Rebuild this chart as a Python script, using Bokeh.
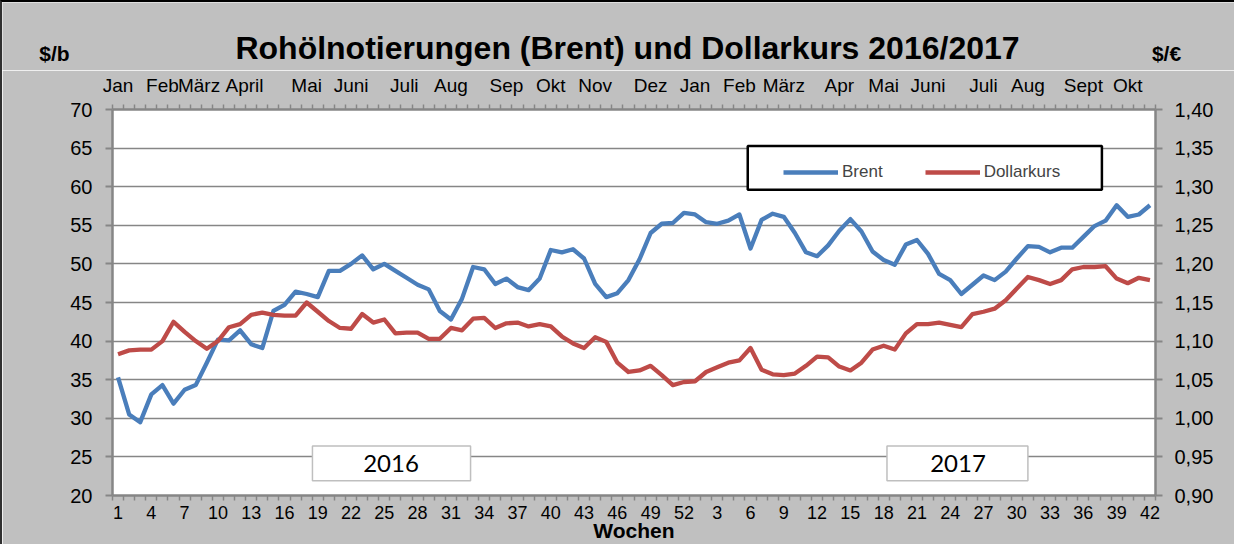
from bokeh.plotting import figure
from bokeh.layouts import column
from bokeh.models import (Range1d, LinearAxis, FixedTicker, CustomJSTickFormatter,
                          BoxAnnotation, Label, Legend, LegendItem, ColumnDataSource)
from bokeh.embed import file_html
from bokeh.resources import INLINE

# ---------------- data ----------------
week_no = list(range(1, 53)) + list(range(1, 43))          # KW 2016 (1-52) + KW 2017 (1-42)
week_idx = list(range(1, len(week_no) + 1))

brent = [35.3, 30.5, 29.5, 33.1, 34.3, 31.9, 33.7, 34.3, 37.2, 40.2, 40.1, 41.4, 39.6,
         39.1, 43.9, 44.7, 46.4, 46.1, 45.7, 49.1, 49.1, 50.0, 51.1, 49.3, 50.0,
         49.1, 48.2, 47.3, 46.7, 43.9, 42.8, 45.5, 49.6, 49.3, 47.4, 48.1, 47.0, 46.6,
         48.1, 51.8, 51.5, 51.9, 50.7, 47.4, 45.7, 46.2, 47.9, 50.6, 54.0,
         55.2, 55.3, 56.6, 56.4, 55.4, 55.2, 55.6, 56.4, 52.0, 55.7, 56.5, 56.1, 54.0,
         51.5, 51.0, 52.4, 54.3, 55.8, 54.2, 51.6, 50.5, 49.9, 52.5, 53.1,
         51.3, 48.7, 47.9, 46.1, 47.3, 48.5, 47.9, 49.0, 50.7, 52.3, 52.2, 51.5, 52.1,
         52.1, 53.5, 54.9, 55.6, 57.6, 56.1, 56.4, 57.6]

dollar = [1.083, 1.088, 1.089, 1.089, 1.100, 1.125, 1.112, 1.100, 1.090, 1.100, 1.118,
          1.122, 1.134, 1.137, 1.134, 1.133, 1.133, 1.150, 1.138, 1.126, 1.117, 1.116,
          1.135, 1.124, 1.128,
          1.110, 1.111, 1.111, 1.103, 1.103, 1.117, 1.114, 1.129, 1.130, 1.117, 1.123,
          1.124, 1.119, 1.122, 1.119, 1.106, 1.097, 1.091, 1.105, 1.099, 1.072, 1.060,
          1.062, 1.068,
          1.056, 1.043, 1.047, 1.048, 1.060, 1.066, 1.072, 1.075, 1.091, 1.063, 1.057,
          1.056, 1.058, 1.068, 1.080, 1.079, 1.067, 1.062, 1.072, 1.089, 1.094, 1.089,
          1.110, 1.122,
          1.122, 1.124, 1.121, 1.118, 1.135, 1.138, 1.142, 1.153, 1.168, 1.183, 1.179,
          1.174, 1.179, 1.193, 1.196, 1.196, 1.197, 1.181, 1.175, 1.182, 1.179]

month_names = ["Jan", "Feb", "März", "April", "Mai", "Juni", "Juli", "Aug", "Sep", "Okt",
               "Nov", "Dez", "Jan", "Feb", "März", "Apr", "Mai", "Juni", "Juli", "Aug",
               "Sept", "Okt"]
month_week = [1, 5, 8.3, 12.4, 18, 22, 26.8, 31, 36, 40, 44, 49, 53, 57, 61, 66, 70, 74,
              79, 83, 88, 92]

y_left_ticks = [20, 25, 30, 35, 40, 45, 50, 55, 60, 65, 70]
y_right_ticks = [0.90, 0.95, 1.00, 1.05, 1.10, 1.15, 1.20, 1.25, 1.30, 1.35, 1.40]
x_tick_idx = week_idx[::3]
x_tick_lbl = [str(week_no[i - 1]) for i in x_tick_idx]

series_names = ["Brent", "Dollarkurs"]
year_labels = ["2016", "2017"]
title_text = "Rohölnotierungen (Brent) und Dollarkurs 2016/2017"
x_title = "Wochen"
unit_left = "$/b"
unit_right = "$/€"

# ---------------- styling ----------------
FONT = "Liberation Sans"
AX = "#868686"
BLUE = "#4A7EBB"
RED = "#BE4B48"
BG = "#C0C0C0"

W = 1232
H_HEAD = 68
H_MAIN = 542 - H_HEAD

# ---- header strip (title and unit labels) ----
head = figure(width=W, height=H_HEAD, output_backend="svg", toolbar_location=None,
              x_range=Range1d(0, W), y_range=Range1d(H_HEAD, 0),
              x_axis_location=None, y_axis_location=None, title_location=None,
              min_border=0, min_border_left=0, min_border_right=0,
              min_border_top=0, min_border_bottom=0)
head.grid.visible = False
head.background_fill_color = BG
head.border_fill_color = BG
head.outline_line_color = None
head.add_layout(Label(x=625, y=45.5, text=title_text, text_align="center",
                      text_baseline="middle", text_font=FONT, text_font_style="bold",
                      text_font_size="32px", text_color="black"))
for txt, cx in [(unit_left, 52), (unit_right, 1164)]:
    head.add_layout(Label(x=cx, y=50.5, text=txt, text_align="center",
                          text_baseline="middle", text_font=FONT,
                          text_font_style="bold", text_font_size="21px", text_color="black"))

# ---- main chart ----
p = figure(width=W, height=H_MAIN, output_backend="svg", toolbar_location=None,
           x_range=Range1d(0.5, 94.5), y_range=Range1d(20, 70), title_location=None,
           min_border_left=110, min_border_right=79, min_border_top=39,
           min_border_bottom=30)
p.background_fill_color = "white"
p.border_fill_color = BG
p.outline_line_color = None
p.extra_y_ranges = {"dollar": Range1d(0.90, 1.40)}

for fig in (head, p):
    if "frame_align" in fig.properties():
        fig.frame_align = False

p.xgrid.visible = False
p.ygrid.ticker = FixedTicker(ticks=y_left_ticks)
p.ygrid.grid_line_color = AX
p.ygrid.grid_line_width = 1.6

minor_bounds = [k + 0.5 for k in range(0, len(week_idx) + 1)]

# left axis
yl = p.yaxis[0]
yl.ticker = FixedTicker(ticks=y_left_ticks)
yl.axis_line_color = AX
yl.axis_line_width = 2.5
yl.major_tick_line_color = AX
yl.major_tick_line_width = 2
yl.major_tick_in = 0
yl.major_tick_out = 7
yl.minor_tick_line_color = None
yl.major_label_text_font = FONT
yl.major_label_text_font_size = "20px"
yl.major_label_text_color = "black"
yl.major_label_standoff = 13

# bottom axis
xb = p.xaxis[0]
xb.ticker = FixedTicker(ticks=x_tick_idx, minor_ticks=minor_bounds)
xb.formatter = CustomJSTickFormatter(args=dict(pos=x_tick_idx, lbl=x_tick_lbl), code="""
    const i = pos.indexOf(tick); return i >= 0 ? lbl[i] : "";""")
xb.axis_line_color = AX
xb.axis_line_width = 2.5
xb.major_tick_line_color = None
xb.major_tick_in = 0
xb.major_tick_out = 0
xb.minor_tick_line_color = AX
xb.minor_tick_line_width = 1.5
xb.minor_tick_in = 0
xb.minor_tick_out = 5
xb.major_label_text_font = FONT
xb.major_label_text_font_size = "18px"
xb.major_label_text_color = "black"
xb.major_label_standoff = 5
xb.axis_label = x_title
xb.axis_label_standoff = -3
xb.axis_label_text_font = FONT
xb.axis_label_text_font_style = "bold"
xb.axis_label_text_font_size = "21px"
xb.axis_label_text_color = "black"

# top axis with month names
xt = LinearAxis(ticker=FixedTicker(ticks=month_week, minor_ticks=minor_bounds),
                formatter=CustomJSTickFormatter(args=dict(pos=month_week, lbl=month_names), code="""
    let best = 0, d = 1e9;
    for (let k = 0; k < pos.length; k++) { const e = Math.abs(pos[k] - tick); if (e < d) { d = e; best = k; } }
    return lbl[best];"""))
xt.axis_line_color = AX
xt.axis_line_width = 2.5
xt.major_tick_line_color = None
xt.major_tick_in = 0
xt.major_tick_out = 0
xt.minor_tick_line_color = AX
xt.minor_tick_line_width = 1.5
xt.minor_tick_in = 0
xt.minor_tick_out = 5
xt.major_label_text_font = FONT
xt.major_label_text_font_size = "19px"
xt.major_label_text_color = "black"
xt.major_label_standoff = 9
p.add_layout(xt, "above")

# right axis
yr = LinearAxis(y_range_name="dollar", ticker=FixedTicker(ticks=y_right_ticks),
                formatter=CustomJSTickFormatter(code="return tick.toFixed(2).replace('.', ',');"))
yr.axis_line_color = AX
yr.axis_line_width = 2.5
yr.major_tick_line_color = AX
yr.major_tick_line_width = 2
yr.major_tick_in = 0
yr.major_tick_out = 7
yr.minor_tick_line_color = None
yr.major_label_text_font = FONT
yr.major_label_text_font_size = "20px"
yr.major_label_text_color = "black"
yr.major_label_standoff = 12
p.add_layout(yr, "right")

# ---------------- series ----------------
src = ColumnDataSource(dict(x=week_idx, brent=brent, dollar=dollar))
rb = p.line("x", "brent", source=src, line_color=BLUE, line_width=4.3, line_join="round")
rd = p.line("x", "dollar", source=src, y_range_name="dollar", line_color=RED,
            line_width=4.3, line_join="round")

# legend box + legend
p.add_layout(BoxAnnotation(left=57.75, right=89.67, bottom=59.62, top=65.26,
                           fill_color="white", fill_alpha=1.0,
                           line_color="black", line_alpha=1.0, line_width=2.5))
leg = Legend(items=[LegendItem(label=series_names[0], renderers=[rb]),
                    LegendItem(label=series_names[1], renderers=[rd])],
             orientation="horizontal", location=(671, 313),
             glyph_width=55, glyph_height=20, label_standoff=4, spacing=42,
             padding=6, margin=0, background_fill_alpha=0, border_line_color=None,
             label_text_font=FONT, label_text_font_size="17px", label_height=20)
p.add_layout(leg)

# year boxes
for (l, r, cx), txt in zip([(18.52, 32.77, 25.6), (70.3, 83.0, 76.7)], year_labels):
    p.add_layout(BoxAnnotation(left=l, right=r, bottom=21.92, top=26.41,
                               fill_color="white", fill_alpha=1.0,
                               line_color="#BFBFBF", line_alpha=1.0, line_width=1.5))
    p.add_layout(Label(x=cx, y=24.17, text=txt, text_align="center", text_baseline="middle",
                       text_font="Lato", text_font_size="24px", text_color="black"))

layout = column(head, p, spacing=0)
layout.styles = {"border-top": "2px solid #000000", "border-left": "2px solid #303030"}

open("out.html", "w").write(file_html(layout, INLINE))
